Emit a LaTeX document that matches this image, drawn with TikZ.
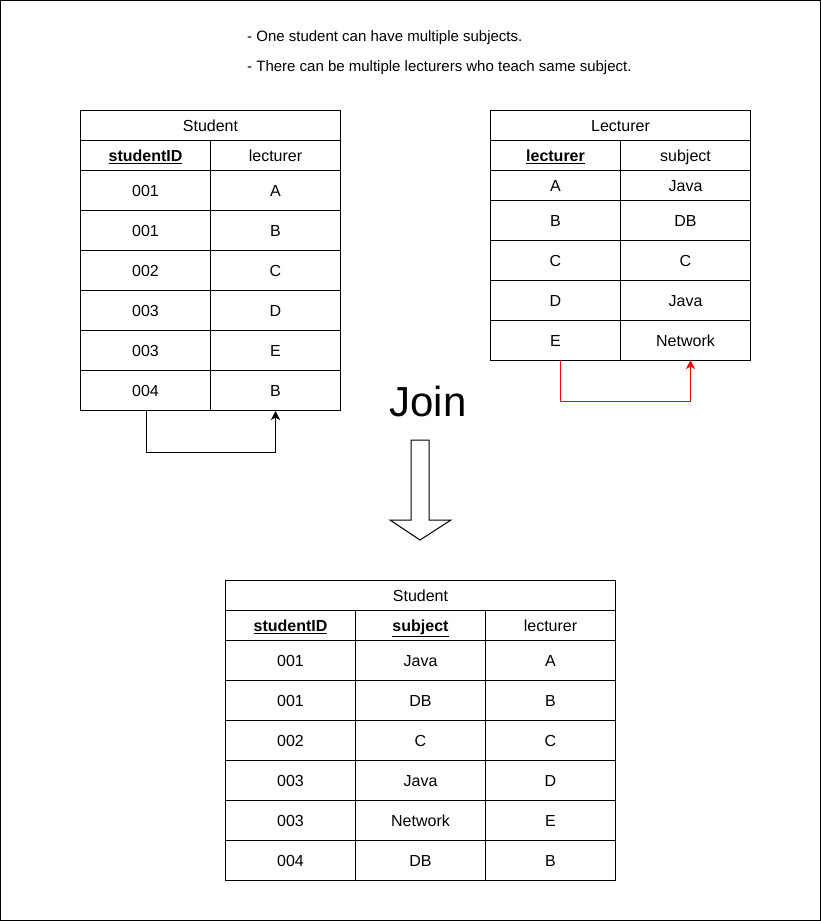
\documentclass[tikz,border=0pt]{standalone}
\usepackage{fontspec}
\setmainfont{Liberation Sans}
\usetikzlibrary{arrows.meta}
\begin{document}
\begin{tikzpicture}[x={(1pt,0)},y={(0,-1pt)},
  cell/.style={draw, line width=1pt, minimum height=40pt, minimum width=130pt, inner sep=0pt, anchor=north west, text height=11.5pt, text depth=0pt, font=\fontsize{16}{19}\selectfont},
  hcell/.style={cell, minimum height=30pt},
  tcell/.style={cell, minimum height=30pt, minimum width=260pt},
  note/.style={anchor=west, inner sep=0pt, font=\fontsize{15}{17}\selectfont},
  conn/.style={line width=1pt, -{Stealth[length=9pt,width=9pt,inset=2.5pt]}}]
\useasboundingbox (0,0) rectangle (821,921);
\draw[line width=1pt] (0.5,0.5) rectangle (820.5,920.5);
% notes
\node[note] (n1) at (247,38) {- One student can have multiple subjects.};
\node[note] (n2) at (247,68) {- There can be multiple lecturers who teach same subject.};
% Student table
\node[tcell] (st) at (80,110) {Student};
\node[hcell] (sh1) at (80,140) {\underline{\textbf{studentID}}};
\node[hcell] (sh2) at (210,140) {lecturer};
\foreach \i/\a/\b in {1/001/A,2/001/B,3/002/C,4/003/D,5/003/E,6/004/B}{
  \node[cell] (s\i a) at (80,{170+40*(\i-1)}) {\a};
  \node[cell] (s\i b) at (210,{170+40*(\i-1)}) {\b};
}
% Lecturer table
\node[tcell] (lt) at (490,110) {Lecturer};
\node[hcell] (lh1) at (490,140) {\underline{\textbf{lecturer}}};
\node[hcell] (lh2) at (620,140) {subject};
\node[hcell] (l1a) at (490,170) {A};
\node[hcell] (l1b) at (620,170) {Java};
\foreach \i/\a/\b in {2/B/DB,3/C/C,4/D/Java,5/E/Network}{
  \node[cell] (l\i a) at (490,{200+40*(\i-2)}) {\a};
  \node[cell] (l\i b) at (620,{200+40*(\i-2)}) {\b};
}
% connectors
\draw[conn] ([xshift=1pt]s6a.south) -- ++(0,41) -| ([xshift=0pt]s6b.south);
\draw[conn, red] ([xshift=5pt]l5a.south) -- ++(0,40) -| ([xshift=5pt,yshift=1pt]l5b.south);
% Join
\node[inner sep=0pt, font=\fontsize{42}{48}\selectfont] (join) at (428,401) {Join};
\draw[line width=1pt, fill=white] (411,440) -- (429,440) -- (429,520) -- (451,520) -- (420,540) -- (390,520) -- (411,520) -- cycle;
% Result table
\node[cell, minimum height=30pt, minimum width=390pt] (rt) at (225,580) {Student};
\node[hcell] (rh1) at (225,610) {\underline{\textbf{studentID}}};
\node[hcell] (rh2) at (355,610) {\underline{\textbf{subject}}};
\node[hcell] (rh3) at (485,610) {lecturer};
\foreach \i/\a/\b/\c in {1/001/Java/A,2/001/DB/B,3/002/C/C,4/003/Java/D,5/003/Network/E,6/004/DB/B}{
  \node[cell] (r\i a) at (225,{640+40*(\i-1)}) {\a};
  \node[cell] (r\i b) at (355,{640+40*(\i-1)}) {\b};
  \node[cell] (r\i c) at (485,{640+40*(\i-1)}) {\c};
}
\end{tikzpicture}
\end{document}
